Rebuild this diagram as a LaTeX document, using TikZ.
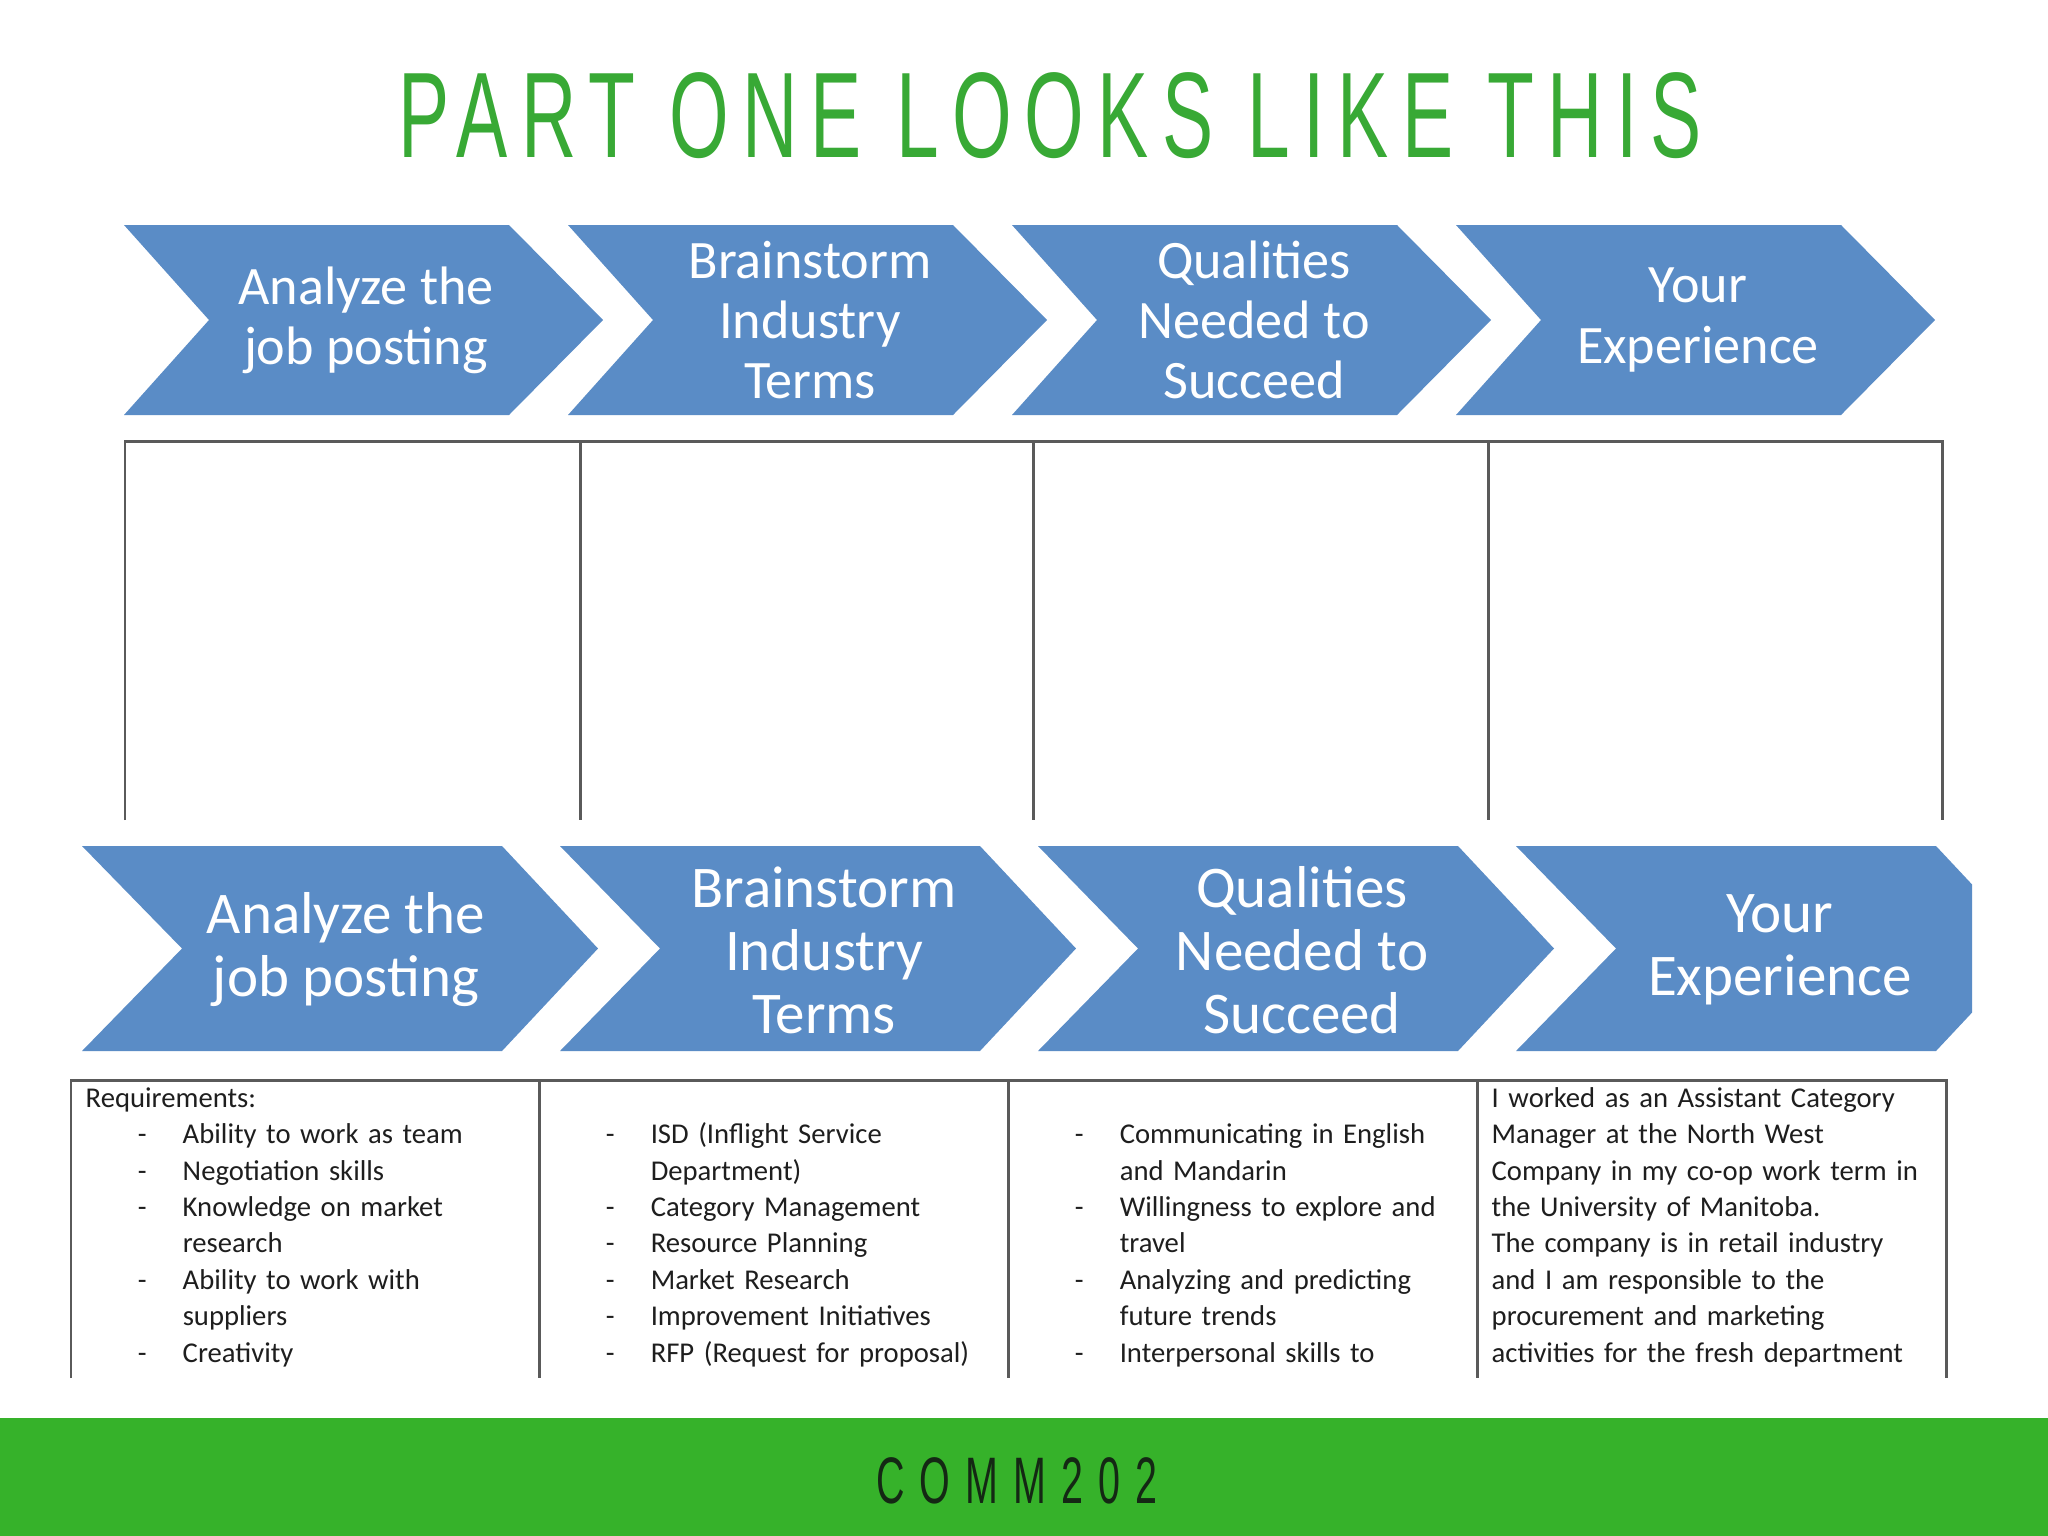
\documentclass[tikz,border=0pt]{standalone}
\usepackage{fontspec}
\setmainfont{Carlito}
\newfontfamily\headfont[FakeStretch=0.63,LetterSpace=10.8]{Liberation Sans}
\newfontfamily\footfont[FakeStretch=0.6,LetterSpace=23]{Liberation Sans}
\usetikzlibrary{positioning,calc}
\definecolor{leaf} {HTML}{38A935}
\definecolor{band} {HTML}{36B22A}
\definecolor{steel}{HTML}{5A8CC6}
\definecolor{rule} {HTML}{5A5A5A}
\definecolor{ink}  {HTML}{1E1E1E}
\definecolor{deep} {HTML}{142814}
\newcommand{\dashitem}{\hspace*{14.8pt}\makebox[12.8pt][l]{-}}
\newcommand{\wrapitem}{\hspace*{27.6pt}}

\begin{document}
\begin{tikzpicture}[x=0.01cm,y=-0.01cm,
  chev/.style={fill=steel},
  chevtop/.style={text=white,align=center,inner sep=0pt,font=\fontsize{15.4}{17.1}\selectfont},
  chevlow/.style={text=white,align=center,inner sep=0pt,font=\fontsize{16.8}{17.9}\selectfont},
  cell/.style={rule,line width=0.85pt},
  cellnote/.style={anchor=north west,inner sep=0pt,text width=4.5cm,align=left,text=ink,font=\fontsize{8.15}{10.36}\selectfont}]
\useasboundingbox (0,0) rectangle (2048,1536);
\fill[white] (0,0) rectangle (2048,1536);
% title
\node[text=leaf,inner sep=0pt,font=\headfont\fontsize{34.6}{36}\selectfont] (title) at (1050,116) {PART ONE LOOKS LIKE THIS};
% upper row of chevrons
\fill[chev] (124,225) -- (509,225) -- (603,320) -- (509,415) -- (124,415) -- (209,320) -- cycle;
\fill[chev] (568,225) -- (953,225) -- (1047,320) -- (953,415) -- (568,415) -- (653,320) -- cycle;
\fill[chev] (1012,225) -- (1397,225) -- (1491,320) -- (1397,415) -- (1012,415) -- (1097,320) -- cycle;
\fill[chev] (1456,225) -- (1841,225) -- (1935,320) -- (1841,415) -- (1456,415) -- (1541,320) -- cycle;
\node[chevtop] (top-1) at (366,320) {Analyze the\\job posting};
\node[chevtop] (top-2) at (810,320) {Brainstorm\\Industry\\Terms};
\node[chevtop] (top-3) at (1254,320) {Qualities\\Needed to\\Succeed};
\node[chevtop] (top-4) at (1698,320) {Your\\Experience};
% empty cells
\draw[cell] (125,820) -- (125,441) -- (1942,441) -- (1942,820);
\draw[cell] (580,441) -- (580,820);
\draw[cell] (1033,441) -- (1033,820);
\draw[cell] (1488,441) -- (1488,820);
% lower row of chevrons
\fill[chev] (82,846) -- (502,846) -- (598,948.5) -- (502,1051) -- (82,1051) -- (182,948.5) -- cycle;
\fill[chev] (560,846) -- (980,846) -- (1076,948.5) -- (980,1051) -- (560,1051) -- (660,948.5) -- cycle;
\fill[chev] (1038,846) -- (1458,846) -- (1554,948.5) -- (1458,1051) -- (1038,1051) -- (1138,948.5) -- cycle;
\fill[chev] (1516,846) -- (1936,846) -- (1972,884.4) -- (1972,1012.6) -- (1936,1051) -- (1516,1051) -- (1616,948.5) -- cycle;
\node[chevlow] (low-1) at (346,950) {Analyze the\\job posting};
\node[chevlow] (low-2) at (824,950) {Brainstorm\\Industry\\Terms};
\node[chevlow] (low-3) at (1302,950) {Qualities\\Needed to\\Succeed};
\node[chevlow] (low-4) at (1780,950) {Your\\Experience};
% filled-in cells
\draw[cell] (71,1378) -- (71,1080) -- (1946,1080) -- (1946,1378);
\draw[cell] (539,1080) -- (539,1378);
\draw[cell] (1008,1080) -- (1008,1378);
\draw[cell] (1477,1080) -- (1477,1378);
\node[cellnote] (note-1) at (85,1081) {\strut Requirements:\\
  \dashitem Ability to work as team\\
  \dashitem Negotiation skills\\
  \dashitem Knowledge on market\\
  \wrapitem research\\
  \dashitem Ability to work with\\
  \wrapitem suppliers\\
  \dashitem Creativity};
\node[cellnote] (note-2) at (553,1081) {\strut\\
  \dashitem ISD (Inflight Service\\
  \wrapitem Department)\\
  \dashitem Category Management\\
  \dashitem Resource Planning\\
  \dashitem Market Research\\
  \dashitem Improvement Initiatives\\
  \dashitem RFP (Request for proposal)};
\node[cellnote] (note-3) at (1022,1081) {\strut\\
  \dashitem Communicating in English\\
  \wrapitem and Mandarin\\
  \dashitem Willingness to explore and\\
  \wrapitem travel\\
  \dashitem Analyzing and predicting\\
  \wrapitem future trends\\
  \dashitem Interpersonal skills to};
\node[cellnote] (note-4) at (1491,1081) {\strut I worked as an Assistant Category\\
  Manager at the North West\\
  Company in my co-op work term in\\
  the University of Manitoba.\\
  The company is in retail industry\\
  and I am responsible to the\\
  procurement and marketing\\
  activities for the fresh department};
% footer band
\fill[band] (0,1418) rectangle (2048,1536);
\node[text=deep,inner sep=0pt,font=\footfont\fontsize{18.7}{20}\selectfont] (course) at (1017,1481) {COMM202};
\end{tikzpicture}
\end{document}
